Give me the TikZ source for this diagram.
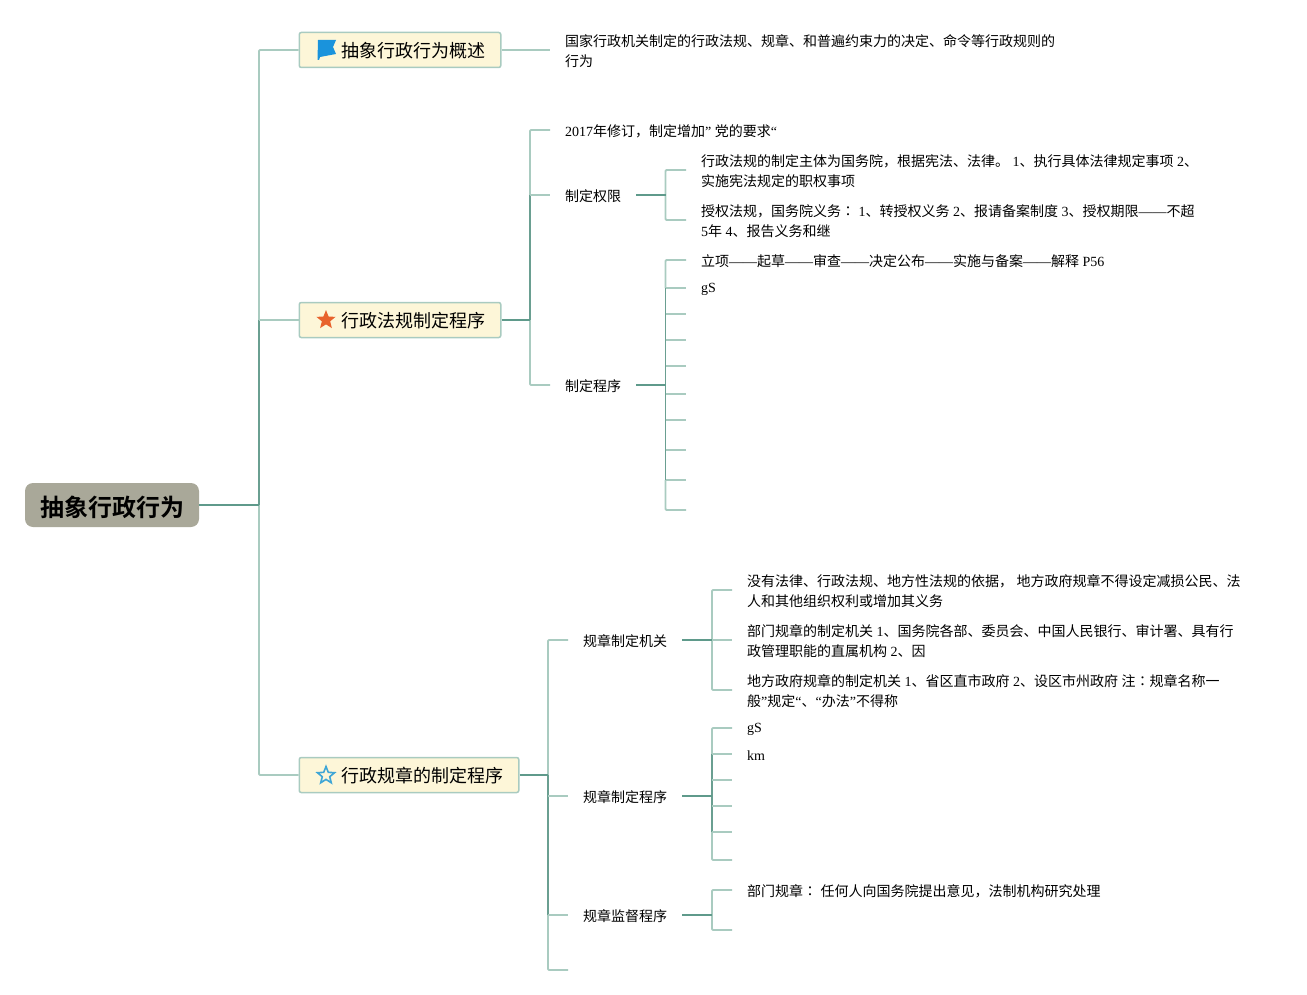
\documentclass[tikz,border=0pt]{standalone}
\usepackage{fontspec}
\usetikzlibrary{shapes.geometric}
\setmainfont{Liberation Serif}
\newfontfamily\cjkf{Noto Sans CJK SC}[BoldFont={Noto Sans CJK SC Bold}]
\newfontfamily\cjktc{Noto Sans CJK TC}
\newcommand\tcc[1]{{\XeTeXinterchartokenstate=0 \cjktc #1}}
\XeTeXinterchartokenstate=1
\newXeTeXintercharclass\cjkclass
\makeatletter
\count@="3000
\loop\ifnum\count@<"3040 \XeTeXcharclass\count@=\cjkclass \advance\count@ by 1 \repeat
\count@="4E00
\loop\ifnum\count@<"A000 \XeTeXcharclass\count@=\cjkclass \advance\count@ by 1 \repeat
\count@="FF00
\loop\ifnum\count@<"FFF0 \XeTeXcharclass\count@=\cjkclass \advance\count@ by 1 \repeat
\makeatother
\XeTeXinterchartoks 0 \cjkclass = {\begingroup\cjkf}
\XeTeXinterchartoks 4095 \cjkclass = {\begingroup\cjkf}
\XeTeXinterchartoks \cjkclass 0 = {\endgroup}
\XeTeXinterchartoks \cjkclass 4095 = {\endgroup}
\definecolor{lt}{HTML}{A9CBC0}
\definecolor{dk}{HTML}{6A9F91}
\definecolor{dks}{HTML}{5F9A8B}
\definecolor{topicfill}{HTML}{FDF6D8}
\definecolor{rootfill}{HTML}{A9A899}
\definecolor{flagblue}{HTML}{1A93DC}
\definecolor{starorange}{HTML}{E8622C}
\definecolor{starblue}{HTML}{3FA6D6}
\begin{document}
\begin{tikzpicture}[x=1pt,y=-1pt,
  every node/.style={font=\fontsize{14}{20}\selectfont,text=black},
  rootbox/.style={fill=rootfill,rounded corners=8pt,minimum width=174pt,minimum height=44pt,inner sep=0pt,font=\fontsize{24}{28}\selectfont\bfseries},
  topic/.style={draw=lt,line width=1.5pt,fill=topicfill,rounded corners=2pt,minimum height=35pt,inner xsep=15pt,inner ysep=0pt,anchor=west,font=\fontsize{18}{22}\selectfont},
  item/.style={anchor=west,inner xsep=15pt,inner ysep=0pt,align=left},
  light/.style={draw=lt,line width=1.8pt,line join=round},
  dark/.style={draw=dk,line width=1.8pt,line join=round},
  strong/.style={draw=dks,line width=2pt}]
\useasboundingbox (0,0) rectangle (1307,995);

\node[rootbox] (root) at (112,505) {\raisebox{0pt}[22pt][0pt]{\hspace{1pt}抽象行政行为}};
\node[topic] (t1) at (298.5,50) {\hspace{27.5pt}\raisebox{0pt}[15.5pt][0pt]{抽象行政行为概述}\hspace{-1.5pt}};
\node[topic] (t2) at (298.5,320) {\hspace{27.5pt}\raisebox{0pt}[15.5pt][0pt]{行政法规制定程序}\hspace{-1.5pt}};
\node[topic] (t3) at (298.5,775) {\hspace{27.5pt}\raisebox{0pt}[15.5pt][0pt]{行政规章的制定程序}\hspace{-1.5pt}};

% icons
\fill[flagblue] (318,40) -- (336,40) -- (333,47) -- (336,54) -- (320,57) -- (319,60) -- (317.5,60) -- cycle;
\node[star,star points=5,star point ratio=2.3,fill=starorange,minimum size=20pt,inner sep=0pt] (s2) at (326,320) {};
\node[star,star points=5,star point ratio=2.3,draw=starblue,line width=1.6pt,minimum size=18pt,inner sep=0pt] (s3) at (326,775.5) {};

% level 1 items
\node[item] (a1) at (550,51.3) {国家行政机关制定的行政法规、规章、和普遍约束力的决定、命令等行政规则的\\行为};
\node[item] (b1) at (550,131.3) {2017年修订，制定增加” 党的要求“};
\node[item] (b2) at (550,196.3) {制定权限};
\node[item] (b3) at (550,386.3) {制定程序};
\node[item] (c1) at (568,641.3) {规章制定机关};
\node[item] (c2) at (568,797.3) {规章制定程序};
\node[item] (c3) at (568,916.3) {规章监督程序};
\coordinate (c4w) at (568,970);

% level 2 items
\node[item] (b21) at (686,171.3) {行政法规的制定主体为国务院，根据宪法、法律。 1、执行具体法律规定事项 2、\\实施宪法规定的职权事项};
\node[item] (b22) at (686,221.3) {授权法规，国务院义务\tcc{：} 1、转授权义务 2、报请备案制度 3、授权期限——不超\\5年 4、报告义务和继};
\node[item] (b31) at (686,261.3) {立项——起草——审查——决定公布——实施与备案——解释 P56};
\node[item] (b32) at (686,289.3) {gS};
\coordinate (b33w) at (686,314);
\coordinate (b34w) at (686,340);
\coordinate (b35w) at (686,366);
\coordinate (b36w) at (686,394);
\coordinate (b37w) at (686,420);
\coordinate (b38w) at (686,450);
\coordinate (b39w) at (686,480);
\coordinate (b310w) at (686,510);

\node[item] (c11) at (732,591.3) {没有法律、行政法规、地方性法规的依据， 地方政府规章不得设定减损公民、法\\人和其他组织权利或增加其义务};
\node[item] (c12) at (732,641.3) {部门规章的制定机关 1、国务院各部、委员会、中国人民银行、审计署、具有行\\政管理职能的直属机构 2、因};
\node[item] (c13) at (732,691.3) {地方政府规章的制定机关 1、省区直市政府 2、设区市州政府 注\tcc{：}规章名称一\\般”规定“、“办法”不得称};
\node[item] (c21) at (732,729.3) {gS};
\node[item] (c22) at (732,755.3) {km};
\coordinate (c23w) at (732,780);
\coordinate (c24w) at (732,806);
\coordinate (c25w) at (732,832);
\coordinate (c26w) at (732,860);
\node[item] (c31) at (732,891.3) {部门规章\tcc{：} 任何人向国务院提出意见，法制机构研究处理};
\coordinate (c32w) at (732,930);

% connection points of the text nodes: the line runs 1.3 units above the node's middle
\foreach \n in {a1,b1,b2,b3,c1,c2,c3,b21,b22,b31,b32,c11,c12,c13,c21,c22,c31} {
  \coordinate (\n w) at ([yshift=1.3pt]\n.west);
  \coordinate (\n e) at ([yshift=1.3pt]\n.east);
}

% bus points
\coordinate (R) at (259,505);
\coordinate (T2) at (530,320);
\coordinate (T3) at (548,775);
\coordinate (B2) at (665.5,195);
\coordinate (B3) at (665.5,385);
\coordinate (C1) at (712,640);
\coordinate (C2) at (712,796);
\coordinate (C3) at (712,915);

% root -> topics
\draw[light,rounded corners=1pt] (R) |- (t1.west);
\draw[light,rounded corners=1pt] (R) |- (t3.west);
\draw[dark] (R) -- (R |- t2.west);
\draw[light] (R |- t2.west) -- (t2.west);
\draw[strong] (root.east) -- (R);

% t1 -> a1
\draw[light] (t1.east) -- (a1w);

% t2 -> b
\draw[light,rounded corners=1pt] (T2) |- (b1w);
\draw[light,rounded corners=1pt] (T2) |- (b3w);
\draw[dark] (T2) -- (T2 |- b2w);
\draw[light] (T2 |- b2w) -- (b2w);
\draw[strong] (t2.east) -- (T2);

% b2
\draw[light,rounded corners=1pt] (B2) |- (b21w);
\draw[light,rounded corners=1pt] (B2) |- (b22w);
\draw[strong] (b2e) -- (B2);

% b3
\draw[light,rounded corners=1pt] (B3 |- b32w) |- (b31w);
\draw[light] (B3 |- b32w) -- (b32w);
\draw[light,rounded corners=1pt] (B3 |- b39w) |- (b310w);
\draw[dark] (B3 |- b32w) -- (B3 |- b39w);
\foreach \n in {b33w,b34w,b35w,b36w,b37w,b38w,b39w}
  \draw[light] (B3 |- \n) -- (\n);
\draw[strong] (b3e) -- (B3);

% t3 -> c
\draw[light,rounded corners=1pt] (T3) |- (c1w);
\draw[light,rounded corners=1pt] (T3 |- c3w) |- (c4w);
\draw[dark] (T3) -- (T3 |- c3w);
\draw[light] (T3 |- c2w) -- (c2w);
\draw[light] (T3 |- c3w) -- (c3w);
\draw[strong] (t3.east) -- (T3);

% c1
\draw[light,rounded corners=1pt] (C1) |- (c11w);
\draw[light,rounded corners=1pt] (C1) |- (c13w);
\draw[light] (C1) -- (c12w);
\draw[strong] (c1e) -- (C1);

% c2
\draw[light,rounded corners=1pt] (C2 |- c22w) |- (c21w);
\draw[light,rounded corners=1pt] (C2 |- c25w) |- (c26w);
\draw[dark] (C2 |- c22w) -- (C2 |- c25w);
\draw[light] (C2 |- c22w) -- (c22w);
\foreach \n in {c23w,c24w,c25w}
  \draw[light] (C2 |- \n) -- (\n);
\draw[strong] (c2e) -- (C2);

% c3
\draw[light,rounded corners=1pt] (C3) |- (c31w);
\draw[light,rounded corners=1pt] (C3) |- (c32w);
\draw[strong] (c3e) -- (C3);
\end{tikzpicture}
\end{document}
